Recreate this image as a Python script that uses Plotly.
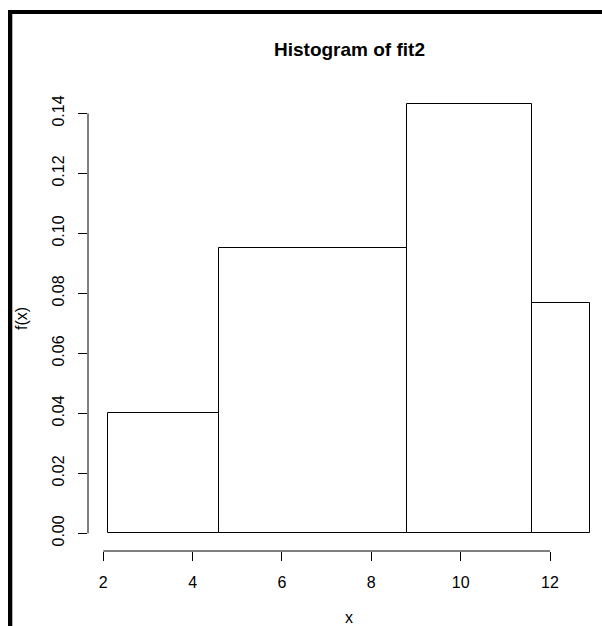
import plotly.graph_objects as go

# Histogram data (density scale)
breaks = [2.11, 4.595, 8.80, 11.60, 12.89]
density = [0.0400, 0.0951, 0.1431, 0.0768]
x_ticks = [2, 4, 6, 8, 10, 12]
y_ticks = [0.00, 0.02, 0.04, 0.06, 0.08, 0.10, 0.12, 0.14]
y_tick_labels = ["0.00", "0.02", "0.04", "0.06", "0.08", "0.10", "0.12", "0.14"]

centers = [(breaks[i] + breaks[i + 1]) / 2 for i in range(len(density))]
widths = [breaks[i + 1] - breaks[i] for i in range(len(density))]

W, H = 602, 626
L, R, T, B = 88, 0, 87, 75
pw, ph = W - L - R, H - T - B

def px_x(p):
    return (p - L) / pw

def px_y(p):
    return (H - B - p) / ph

FONT = "Liberation Sans, Arial, sans-serif"

fig = go.Figure()
fig.add_trace(go.Bar(
    x=centers, y=density, width=widths,
    marker=dict(color="white", line=dict(color="black", width=1)),
    showlegend=False, hoverinfo="skip",
))

shapes = [
    # R-style detached axis lines
    dict(type="line", xref="x", yref="paper", x0=x_ticks[0], x1=x_ticks[-1], y0=0, y1=0,
         line=dict(color="black", width=1)),
    dict(type="line", xref="paper", yref="y", x0=0, x1=0, y0=y_ticks[0], y1=y_ticks[-1],
         line=dict(color="black", width=1)),
    # outer black frame (left and top)
    dict(type="rect", xref="paper", yref="paper", x0=px_x(8), x1=px_x(12.3), y0=px_y(640), y1=px_y(10),
         fillcolor="black", line=dict(width=0), layer="above"),
    dict(type="rect", xref="paper", yref="paper", x0=px_x(8), x1=px_x(620), y0=px_y(14), y1=px_y(10),
         fillcolor="black", line=dict(width=0), layer="above"),
]

annotations = [
    dict(text="<b>Histogram of fit2</b>", xref="paper", yref="paper", x=px_x(349), y=px_y(49.5),
         showarrow=False, font=dict(family=FONT, size=19, color="black"), xanchor="center", yanchor="middle"),
    dict(text="x", xref="paper", yref="paper", x=px_x(349), y=px_y(617),
         showarrow=False, font=dict(family=FONT, size=16, color="black"), xanchor="center", yanchor="middle"),
    dict(text="f(x)", xref="paper", yref="paper", x=px_x(21), y=px_y(319), textangle=-90,
         showarrow=False, font=dict(family=FONT, size=16, color="black"), xanchor="center", yanchor="middle"),
]

fig.update_layout(
    width=W, height=H,
    margin=dict(l=L, r=R, t=T, b=B, pad=0),
    paper_bgcolor="white", plot_bgcolor="white",
    bargap=0,
    shapes=shapes, annotations=annotations,
    font=dict(family=FONT, size=16, color="black"),
    xaxis=dict(range=[2 - 15.3 / 44.67, 2 + (W - 103.3) / 44.67], tickvals=x_ticks,
               ticks="outside", ticklen=9, tickwidth=1, tickcolor="black",
               showline=False, showgrid=False, zeroline=False, ticklabelstandoff=8,
               tickfont=dict(family=FONT, size=16, color="black")),
    yaxis=dict(range=[-0.0059, 0.1488], tickvals=y_ticks, ticktext=y_tick_labels,
               ticks="outside", ticklen=9, tickwidth=1, tickcolor="black", tickangle=-90,
               showline=False, showgrid=False, zeroline=False, ticklabelstandoff=8,
               tickfont=dict(family=FONT, size=16, color="black")),
)

fig.write_html("out.html")
